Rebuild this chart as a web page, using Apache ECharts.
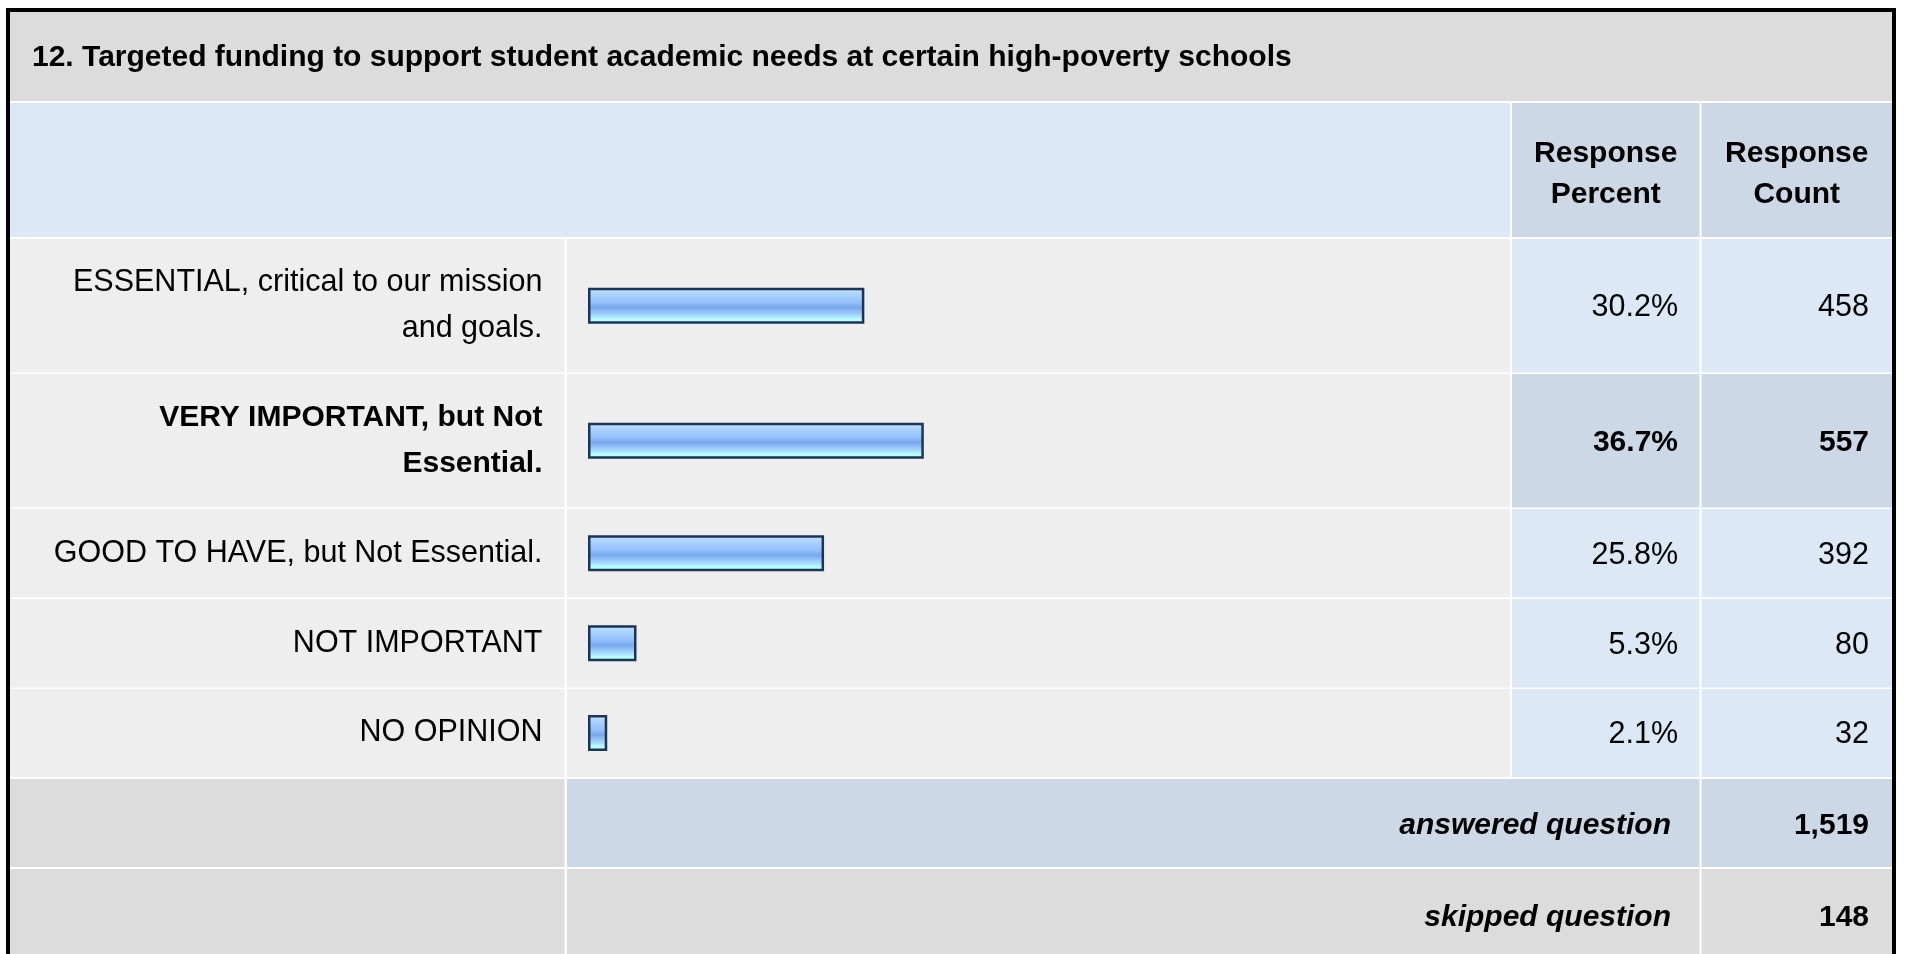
<!DOCTYPE html>
<html><head><meta charset="utf-8">
<script src="https://cdn.jsdelivr.net/npm/echarts@6/dist/echarts.min.js"></script>
<style>html,body{margin:0;padding:0;background:#fff;overflow:hidden}#c{width:1907px;height:954px}</style>
</head><body><div id="c"></div>
<script>
// ---- data ----
const titleText = '12. Targeted funding to support student academic needs at certain high-poverty schools';
const categories = ['ESSENTIAL, critical to our mission and goals.', 'VERY IMPORTANT, but Not Essential.', 'GOOD TO HAVE, but Not Essential.', 'NOT IMPORTANT', 'NO OPINION'];
const percents = [30.2, 36.7, 25.8, 5.3, 2.1];
const counts = [458, 557, 392, 80, 32];
const headers = ['Response\nPercent', 'Response\nCount'];
const summaryLabels = ['answered question', 'skipped question'];
const summaryValues = [1519, 148];

// ---- layout ----
const FONT = '"Liberation Sans", Arial, Helvetica, sans-serif';
const FS = 30.5, FSB = 30;
const C = { l: 10, c0e: 564.5, c1s: 567, c1e: 1510, c2s: 1512, c2e: 1699.5, c3s: 1701.5, r: 1892 };
const titleRow = [12, 101];
const headRow = [103, 237];
const dataRows = [[239, 372.5], [374, 507.5], [509, 597.5], [599, 687.5], [689, 777]];
const sumRows = [[779, 867], [869, 960]];
const COL = { title: '#dcdcdc', headL: '#dce8f5', headD: '#ccd8e6', row: '#eeeeee', gray: '#dcdcdc' };
const hi = percents.indexOf(Math.max.apply(null, percents));
const fmt = n => n.toLocaleString('en-US');

const mctx = document.createElement('canvas').getContext('2d');
function wrap(s, font, maxW) {
  mctx.font = font;
  const words = s.split(' ');
  const lines = [];
  let cur = '';
  words.forEach(w => {
    const t = cur ? cur + ' ' + w : w;
    if (cur && mctx.measureText(t).width > maxW) { lines.push(cur); cur = w; } else { cur = t; }
  });
  lines.push(cur);
  return lines.join('\n');
}

const g = [];
function rect(x1, y1, x2, y2, fill) {
  g.push({ type: 'rect', z: 0, silent: true, shape: { x: x1, y: y1, width: x2 - x1, height: y2 - y1 }, style: { fill } });
}
function text(x, y, s, opt) {
  g.push({ type: 'text', z: 10, silent: true, x, y, style: Object.assign({
    text: s, fontSize: FS, fontFamily: FONT, fill: '#000', align: 'right', verticalAlign: 'middle'
  }, opt || {}) });
}
// title
rect(C.l, titleRow[0], C.r, titleRow[1], COL.title);
text(32, 57.6, titleText, { align: 'left', fontWeight: 'bold', fontSize: FSB });
// header
rect(C.l, headRow[0], C.c1e, headRow[1], COL.headL);
rect(C.c2s, headRow[0], C.c2e, headRow[1], COL.headD);
rect(C.c3s, headRow[0], C.r, headRow[1], COL.headD);
text((C.c2s + C.c2e) / 2, 174, headers[0], { align: 'center', fontWeight: 'bold', fontSize: FSB, lineHeight: 41 });
text((C.c3s + C.r) / 2, 174, headers[1], { align: 'center', fontWeight: 'bold', fontSize: FSB, lineHeight: 41 });
// data rows
dataRows.forEach((r, i) => {
  const bg = i === hi ? COL.headD : COL.headL;
  rect(C.l, r[0], C.c0e, r[1], COL.row);
  rect(C.c1s, r[0], C.c1e, r[1], COL.row);
  rect(C.c2s, r[0], C.c2e, r[1], bg);
  rect(C.c3s, r[0], C.r, r[1], bg);
  const cy = (r[0] + r[1]) / 2 + 2;
  const o = i === hi ? { fontWeight: 'bold', fontSize: FSB } : {};
  text(1678, cy, percents[i].toFixed(1) + '%', o);
  text(1869, cy, fmt(counts[i]), o);
});
// summary rows
sumRows.forEach((r, i) => {
  const bg = i === 0 ? COL.headD : COL.gray;
  rect(C.l, r[0], C.c0e, r[1], COL.gray);
  rect(C.c1s, r[0], C.c2e, r[1], bg);
  rect(C.c3s, r[0], C.r, r[1], bg);
  const cy = (r[0] + r[1]) / 2 + 3;
  text(1671, cy, summaryLabels[i], { fontWeight: 'bold', fontStyle: 'italic', fontSize: FSB });
  text(1869, cy, fmt(summaryValues[i]), { fontWeight: 'bold', fontSize: FSB });
});
// outer border
g.push({ type: 'rect', z: 20, silent: true, shape: { x: 8, y: 10, width: 1886, height: 1000 }, style: { fill: 'transparent', stroke: '#000', lineWidth: 4 } });

const barColor = { type: 'linear', x: 0, y: 0, x2: 0, y2: 1, colorStops: [
  { offset: 0, color: '#c6e3ff' }, { offset: 0.2, color: '#a9d1ff' }, { offset: 0.4, color: '#95c1fb' },
  { offset: 0.55, color: '#78a8ee' }, { offset: 0.7, color: '#99c9fb' }, { offset: 0.8, color: '#aee0ff' },
  { offset: 0.87, color: '#b4ffff' }, { offset: 1, color: '#b4ffff' } ] };

const GL = 588, GW = 915;
const grids = [], xAxes = [], yAxes = [], series = [];
dataRows.forEach((r, i) => {
  const bold = i === hi;
  const fnt = (bold ? 'bold ' : '') + (bold ? FSB : FS) + 'px ' + FONT;
  grids.push({ left: GL, width: GW, top: r[0], height: r[1] - r[0], outerBoundsMode: 'none', containLabel: false });
  xAxes.push({ type: 'value', gridIndex: i, min: 0, max: 100, show: false });
  yAxes.push({ type: 'category', gridIndex: i, z: 5,
    data: [{ value: categories[i], textStyle: { fontWeight: bold ? 'bold' : 'normal', fontSize: bold ? FSB : FS } }],
    axisLine: { show: false }, axisTick: { show: false }, splitLine: { show: false },
    axisLabel: { margin: GL - 542.5, fontSize: FS, fontFamily: FONT, color: '#000',
      formatter: v => wrap(v, fnt, 510),
      lineHeight: 46, align: 'right', padding: [5, 0, 0, 0], interval: 0 } });
  series.push({ type: 'bar', xAxisIndex: i, yAxisIndex: i, data: [percents[i]], barWidth: 36, silent: true,
    itemStyle: { color: barColor, borderColor: '#1b3556', borderWidth: 2.5 } });
});

const chart = echarts.init(document.getElementById('c'), null, { renderer: 'canvas' });
chart.setOption({
  animation: false,
  backgroundColor: '#ffffff',
  grid: grids, xAxis: xAxes, yAxis: yAxes, series,
  graphic: { elements: g }
});
</script></body></html>
